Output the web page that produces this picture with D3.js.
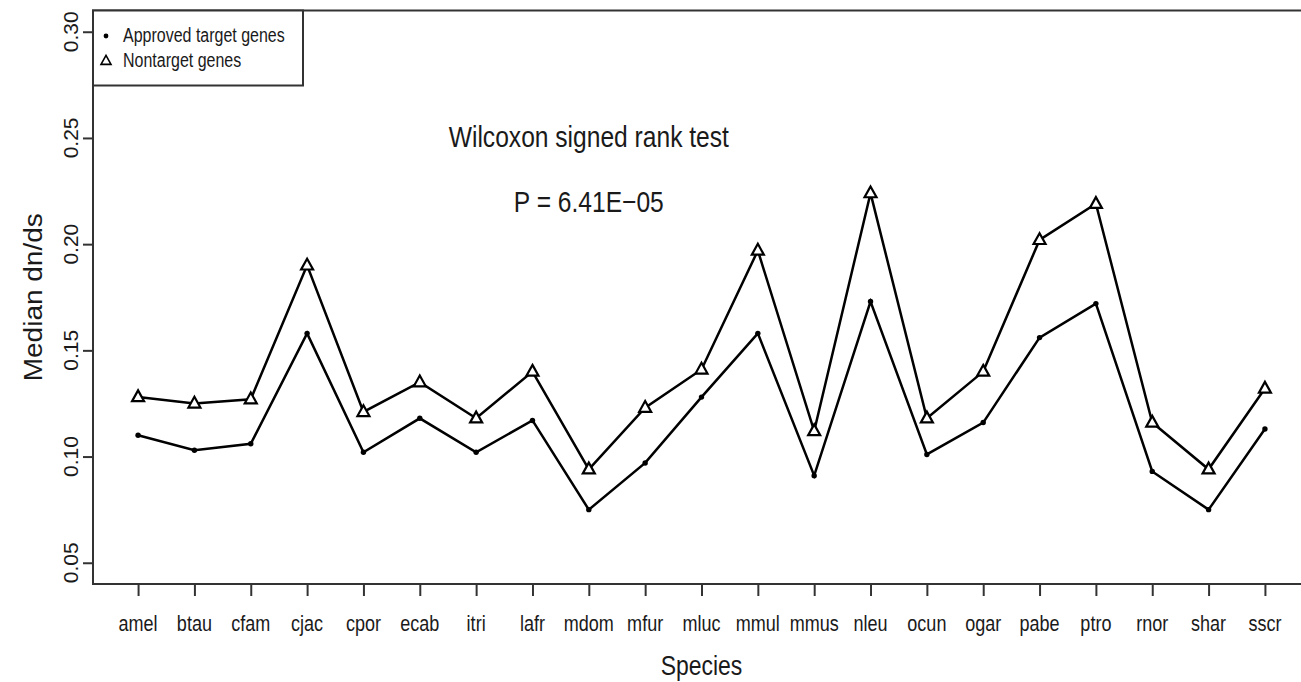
<!DOCTYPE html>
<html>
<head>
<meta charset="utf-8">
<script src="https://cdn.jsdelivr.net/npm/d3@7/dist/d3.min.js"></script>
<style>
  html, body { margin: 0; padding: 0; background: #ffffff; }
  svg { display: block; }
  text { font-family: "Liberation Sans", Arial, Helvetica, sans-serif; fill: #1a1a1a; }
</style>
</head>
<body>
<svg id="chart" width="1301" height="682"></svg>
<script>
// Species codes along the x axis
const species = ["amel","btau","cfam","cjac","cpor","ecab","itri","lafr","mdom","mfur","mluc",
                 "mmul","mmus","nleu","ocun","ogar","pabe","ptro","rnor","shar","sscr"];

// Median dn/ds of approved drug target genes
const approved = [0.110,0.103,0.106,0.158,0.102,0.118,0.102,0.117,0.075,0.097,0.128,
                  0.158,0.091,0.173,0.101,0.116,0.156,0.172,0.093,0.075,0.113];

// Median dn/ds of nontarget genes
const nontarget = [0.128,0.125,0.127,0.190,0.121,0.135,0.118,0.140,0.094,0.123,0.141,
                   0.197,0.112,0.224,0.118,0.140,0.202,0.219,0.116,0.094,0.132];

const yTicks = [0.05, 0.10, 0.15, 0.20, 0.25, 0.30];
const legendLabels = ["Approved target genes", "Nontarget genes"];
const testTitle = "Wilcoxon signed rank test";
const pLabel = "P = 6.41E\u221205";

// Horizontal text is drawn slightly condensed
const SQ = 0.82;

const svg = d3.select("#chart");
svg.append("rect").attr("width", 1301).attr("height", 682).attr("fill", "#ffffff");

// Plot region with the usual 4% padding around the data range
const x = d3.scaleLinear().domain([0.2, 21.8]).range([93, 1310]);
const y = d3.scaleLinear().domain([0.04, 0.31]).range([584, 10.5]);

const frameColor = "#333333";

// Frame
svg.append("rect")
  .attr("x", x(0.2)).attr("y", y(0.31))
  .attr("width", x(21.8) - x(0.2)).attr("height", y(0.04) - y(0.31))
  .attr("fill", "none").attr("stroke", frameColor).attr("stroke-width", 2);

// Y axis ticks
const yAxis = d3.axisLeft(y).tickValues(yTicks).tickSize(10).tickFormat("");
const gy = svg.append("g").attr("transform", `translate(${x(0.2)},0)`).call(yAxis);
gy.select(".domain").remove();
gy.selectAll(".tick line").attr("stroke", frameColor).attr("stroke-width", 2);

// Y tick labels, parallel to the axis
svg.append("g").selectAll("text").data(yTicks).join("text")
  .attr("transform", d => `translate(78,${y(d)}) scale(0.92,1) rotate(-90)`)
  .attr("text-anchor", "middle")
  .attr("font-size", 21)
  .text(d => d3.format(".2f")(d));

// X axis ticks
const xAxis = d3.axisBottom(x).tickValues(d3.range(1, species.length + 1)).tickSize(12).tickFormat("");
const gx = svg.append("g").attr("transform", `translate(0,${y(0.04)})`).call(xAxis);
gx.select(".domain").remove();
gx.selectAll(".tick line").attr("stroke", frameColor).attr("stroke-width", 2);

// X tick labels
svg.append("g").selectAll("text").data(species).join("text")
  .attr("transform", (d, i) => `translate(${x(i + 1)},631) scale(${SQ},1)`)
  .attr("text-anchor", "middle")
  .attr("font-size", 22)
  .text(d => d);

// Axis titles
svg.append("text")
  .attr("transform", `translate(${(x(0.2) + x(21.8)) / 2},675) scale(${SQ},1)`)
  .attr("text-anchor", "middle").attr("font-size", 28)
  .text("Species");

svg.append("text")
  .attr("transform", `translate(42,${(y(0.04) + y(0.31)) / 2}) scale(0.95,1) rotate(-90)`)
  .attr("text-anchor", "middle").attr("font-size", 28)
  .text("Median dn/ds");

// Series lines
const line = d3.line().x((d, i) => x(i + 1)).y(d => y(d));

svg.append("path").datum(nontarget)
  .attr("d", line).attr("fill", "none")
  .attr("stroke", "#000").attr("stroke-width", 2.5).attr("stroke-linejoin", "miter");

svg.append("path").datum(approved)
  .attr("d", line).attr("fill", "none")
  .attr("stroke", "#000").attr("stroke-width", 2.5).attr("stroke-linejoin", "miter");

// Markers: open triangles for nontarget genes, small dots for approved targets
const tri = (cx, cy, s) => {
  const h = s * 0.9;
  return `M${cx},${cy - h * 0.62} L${cx + s / 2},${cy + h * 0.38} L${cx - s / 2},${cy + h * 0.38} Z`;
};

svg.append("g").selectAll("path").data(nontarget).join("path")
  .attr("d", (d, i) => tri(x(i + 1), y(d), 12))
  .attr("fill", "#ffffff").attr("stroke", "#000").attr("stroke-width", 2.2);

svg.append("g").selectAll("circle").data(approved).join("circle")
  .attr("cx", (d, i) => x(i + 1)).attr("cy", d => y(d))
  .attr("r", 2.7).attr("fill", "#000");

// Test annotation
svg.append("text")
  .attr("transform", `translate(${x(9)},${y(0.25) + 9}) scale(${SQ},1)`)
  .attr("text-anchor", "middle").attr("font-size", 30)
  .text(testTitle);

svg.append("text")
  .attr("transform", `translate(${x(9)},${y(0.22) + 10}) scale(${SQ},1)`)
  .attr("text-anchor", "middle").attr("font-size", 30)
  .text(pLabel);

// Legend in the top-left corner
const lg = svg.append("g");
lg.append("rect")
  .attr("x", x(0.2)).attr("y", y(0.31))
  .attr("width", 210).attr("height", 75)
  .attr("fill", "#ffffff").attr("stroke", frameColor).attr("stroke-width", 2);

lg.append("circle").attr("cx", 106).attr("cy", 36).attr("r", 2.4).attr("fill", "#000");
lg.append("path").attr("d", tri(106, 61, 10)).attr("fill", "none").attr("stroke", "#000").attr("stroke-width", 1.6);

lg.selectAll("text.lab").data(legendLabels).join("text")
  .attr("class", "lab")
  .attr("transform", (d, i) => `translate(123,${42 + i * 25}) scale(${SQ},1)`)
  .attr("font-size", 19.5)
  .text(d => d);
</script>
</body>
</html>
